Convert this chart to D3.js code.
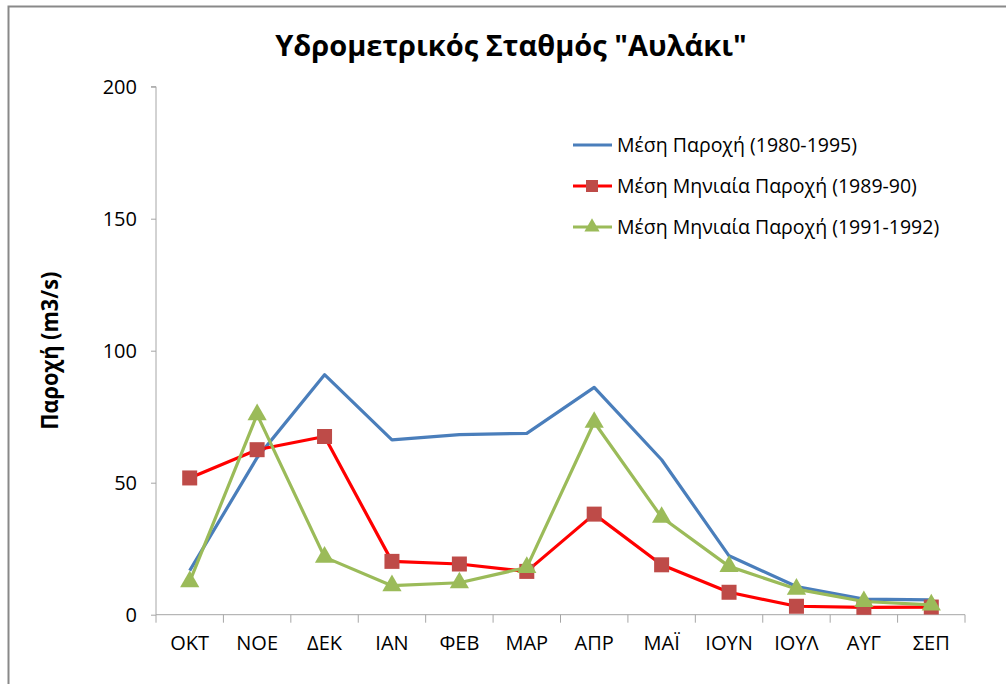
<!DOCTYPE html>
<html>
<head>
<meta charset="utf-8">
<script src="https://cdn.jsdelivr.net/npm/d3@7"></script>
<style>
  body { margin: 0; background: #fff; }
  svg text { font-family: "Open Sans", "Noto Sans", sans-serif; fill: #000; }
</style>
</head>
<body>
<script>
const months = ["ΟΚΤ", "ΝΟΕ", "ΔΕΚ", "ΙΑΝ", "ΦΕΒ", "ΜΑΡ", "ΑΠΡ", "ΜΑΪ", "ΙΟΥΝ", "ΙΟΥΛ", "ΑΥΓ", "ΣΕΠ"]
const meanFlow = [16.7, 59.5, 90.9, 66.2, 68.2, 68.7, 86.1, 58.7, 22.3, 10.7, 5.9, 5.6]
const flow1989 = [51.8, 62.5, 67.5, 20.2, 19.2, 16.4, 38.1, 18.9, 8.5, 3.2, 2.8, 2.9]
const flow1991 = [12.5, 75.8, 21.8, 11.0, 12.1, 17.9, 72.9, 36.9, 18.3, 9.7, 5.0, 3.7]
const yTicks = [0, 50, 100, 150, 200]
const seriesNames = ["Μέση Παροχή (1980-1995)", "Μέση Μηνιαία Παροχή (1989-90)", "Μέση Μηνιαία Παροχή (1991-1992)"]

const w = 1006
const h = 684
const plotL = 156, plotR = 965, plotT = 86.7, plotB = 614.7

const svg = d3.select("body")
  .append("svg")
  .attr("width", w)
  .attr("height", h)

// outer chart border
svg.append("rect")
  .attr("x", 8.5)
  .attr("y", 6.5)
  .attr("width", 1010)
  .attr("height", 700)
  .attr("fill", "none")
  .attr("stroke", "#898989")
  .attr("stroke-width", 2)

svg.append("text")
  .attr("x", 511)
  .attr("y", 56)
  .attr("text-anchor", "middle")
  .style("font-size", "29px")
  .style("font-weight", "bold")
  .text("Υδρομετρικός Σταθμός \"Αυλάκι\"")

svg.append("text")
  .attr("transform", "translate(58," + ((plotT + plotB) / 2) + ") rotate(-90)")
  .attr("text-anchor", "middle")
  .attr("textLength", 158)
  .attr("lengthAdjust", "spacingAndGlyphs")
  .style("font-size", "24px")
  .style("font-weight", "bold")
  .text("Παροχή (m3/s)")

const xScale = d3.scaleBand()
  .domain(months)
  .range([plotL, plotR])

const yScale = d3.scaleLinear()
  .domain([0, 200])
  .range([plotB, plotT])

const yAxis = d3.axisLeft(yScale).tickValues(yTicks).tickSize(5).tickPadding(14)
const xAxis = d3.axisBottom(xScale).tickSize(0).tickPadding(21)

const gy = svg.append("g")
  .attr("transform", "translate(" + plotL + ",0)")
  .call(yAxis)
gy.select(".domain").attr("stroke", "#a6a6a6").attr("d", "M-5," + plotT + "H0V" + plotB)
gy.selectAll(".tick line").attr("stroke", "#a6a6a6")
gy.selectAll(".tick text").style("font-size", "20px").style("font-family", "Open Sans, sans-serif")

const gx = svg.append("g")
  .attr("transform", "translate(0," + plotB + ")")
  .call(xAxis)
gx.select(".domain").attr("stroke", "#a6a6a6").attr("d", "M" + plotL + ",0H" + plotR)
gx.selectAll(".tick text").style("font-size", "20px").style("font-family", "Open Sans, sans-serif")

// category boundary ticks
const bounds = months.map(m => xScale(m)).concat([plotR])
svg.append("g")
  .selectAll("line")
  .data(bounds)
  .enter()
  .append("line")
  .attr("x1", d => d)
  .attr("x2", d => d)
  .attr("y1", plotB)
  .attr("y2", plotB + 8)
  .attr("stroke", "#a6a6a6")

const cx = d => xScale(d) + xScale.bandwidth() / 2

const line = d3.line()
  .x((d, i) => cx(months[i]))
  .y(d => yScale(d))

svg.append("path")
  .datum(meanFlow)
  .attr("d", line)
  .attr("fill", "none")
  .attr("stroke", "#4a7ebb")
  .attr("stroke-width", 3.2)
  .attr("stroke-linejoin", "round")

svg.append("path")
  .datum(flow1989)
  .attr("d", line)
  .attr("fill", "none")
  .attr("stroke", "#ff0000")
  .attr("stroke-width", 3.2)
  .attr("stroke-linejoin", "round")

svg.selectAll("rect.sq")
  .data(flow1989)
  .enter()
  .append("rect")
  .attr("class", "sq")
  .attr("x", (d, i) => cx(months[i]) - 7.5)
  .attr("y", d => yScale(d) - 7.5)
  .attr("width", 15)
  .attr("height", 15)
  .attr("fill", "#be4b48")

svg.append("path")
  .datum(flow1991)
  .attr("d", line)
  .attr("fill", "none")
  .attr("stroke", "#9bbb59")
  .attr("stroke-width", 3.2)
  .attr("stroke-linejoin", "round")

const tri = d3.symbol().type(d3.symbolTriangle).size(160)
svg.selectAll("path.tri")
  .data(flow1991)
  .enter()
  .append("path")
  .attr("class", "tri")
  .attr("d", tri)
  .attr("transform", (d, i) => "translate(" + cx(months[i]) + "," + yScale(d) + ")")
  .attr("fill", "#9bbb59")

// legend
const legendY = [145, 186, 227]
const colors = ["#4a7ebb", "#ff0000", "#9bbb59"]
const lg = svg.append("g")
seriesNames.forEach((name, i) => {
  lg.append("line")
    .attr("x1", 573).attr("x2", 612)
    .attr("y1", legendY[i]).attr("y2", legendY[i])
    .attr("stroke", colors[i])
    .attr("stroke-width", 3)
  if (i == 1) {
    lg.append("rect")
      .attr("x", 586).attr("y", legendY[i] - 6)
      .attr("width", 12).attr("height", 12)
      .attr("fill", "#be4b48")
  }
  if (i == 2) {
    lg.append("path")
      .attr("d", d3.symbol().type(d3.symbolTriangle).size(100))
      .attr("transform", "translate(592," + legendY[i] + ")")
      .attr("fill", "#9bbb59")
  }
  lg.append("text")
    .attr("x", 617)
    .attr("y", legendY[i] + 7)
    .style("font-size", "19.5px")
    .text(name)
})
</script>
</body>
</html>
